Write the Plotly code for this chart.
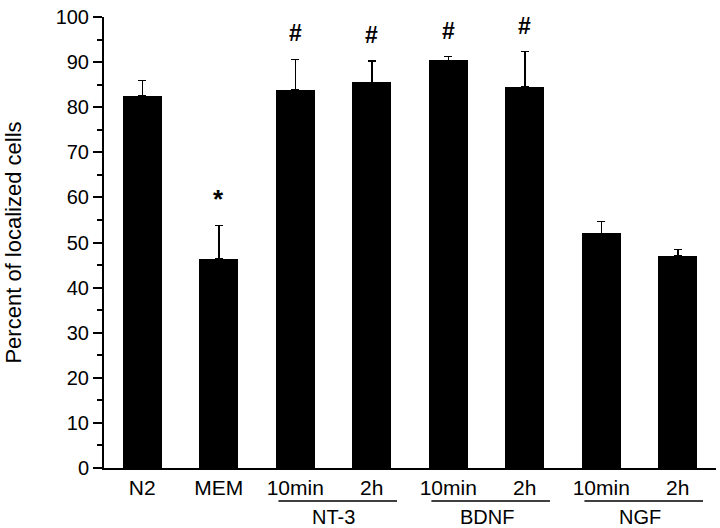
import plotly.graph_objects as go

labels = ["N2", "MEM", "10min", "2h", "10min", "2h", "10min", "2h"]
values = [82.5, 46.4, 83.8, 85.5, 90.4, 84.5, 52.0, 47.0]
errors = [3.4, 7.4, 6.8, 4.7, 0.8, 7.8, 2.7, 1.4]
marks = ["", "*", "#", "#", "#", "#", "", ""]
groups = ["NT-3", "BDNF", "NGF"]
group_members = [(2, 3), (4, 5), (6, 7)]
yticks = [0, 10, 20, 30, 40, 50, 60, 70, 80, 90, 100]

xs = list(range(len(labels)))
FONT = "Liberation Sans, Arial, Helvetica, sans-serif"

fig = go.Figure()
fig.add_trace(go.Bar(
    x=xs, y=values, width=0.51,
    marker=dict(color="black", line=dict(width=0)),
    error_y=dict(type="data", array=errors, arrayminus=[0] * len(errors),
                 symmetric=False, color="black", thickness=1.5, width=4),
    showlegend=False,
))

annotations = []
for x, v, e, m in zip(xs, values, errors, marks):
    if m:
        annotations.append(dict(
            x=x, y=v + e, xref="x", yref="y", text=f"<b>{m}</b>",
            showarrow=False, yanchor="middle", yshift=26,
            font=dict(size=26 if m == "*" else 23, color="black", family=FONT),
        ))

shapes = []
for g, (a, b) in zip(groups, group_members):
    annotations.append(dict(
        x=(a + b) / 2, y=-0.108, xref="x", yref="paper", text=g,
        showarrow=False, yanchor="middle",
        font=dict(size=20, color="black", family=FONT),
    ))
    shapes.append(dict(
        type="line", xref="x", yref="paper", x0=a - 0.22, x1=b + 0.33,
        y0=-0.073, y1=-0.073, line=dict(color="black", width=1.5),
    ))

bounds = [i - 0.5 for i in range(len(labels) + 1)]
rng = [-0.5, len(labels) - 0.5]

fig.update_layout(
    width=720, height=528,
    margin=dict(l=104, r=4, t=17, b=60, autoexpand=False),
    paper_bgcolor="white", plot_bgcolor="white",
    font=dict(family=FONT, color="black"),
    bargap=0,
    xaxis=dict(
        range=rng, tickvals=xs, ticktext=labels,
        ticks="",
        showline=True, linecolor="black", linewidth=2,
        showgrid=False, zeroline=False,
        tickfont=dict(size=21, family=FONT, color="black"),
    ),
    xaxis2=dict(
        range=rng, overlaying="x", anchor="y", side="bottom",
        tickvals=bounds, ticks="outside", ticklen=6, tickwidth=2,
        tickcolor="black", showticklabels=False, showline=False,
        showgrid=False, zeroline=False,
    ),
    xaxis3=dict(
        range=rng, overlaying="x", anchor="y", side="bottom",
        tickvals=bounds, ticks="inside", ticklen=5, tickwidth=2,
        tickcolor="black", showticklabels=False, showline=False,
        showgrid=False, zeroline=False,
    ),
    yaxis=dict(
        range=[0, 100], tickvals=yticks,
        ticks="outside", ticklen=9, tickwidth=2, tickcolor="black",
        minor=dict(ticks="outside", ticklen=5, tickwidth=2, dtick=5,
                   tickcolor="black", showgrid=False),
        showline=True, linecolor="black", linewidth=2,
        showgrid=False, zeroline=False,
        tickfont=dict(size=20, family=FONT, color="black"),
        title=dict(text="Percent of localized cells", standoff=28,
                   font=dict(size=22, family=FONT, color="black")),
    ),
    annotations=annotations,
    shapes=shapes,
)

fig.write_html("out.html", config={"displayModeBar": False},
               post_script="document.body.style.margin='0';")
